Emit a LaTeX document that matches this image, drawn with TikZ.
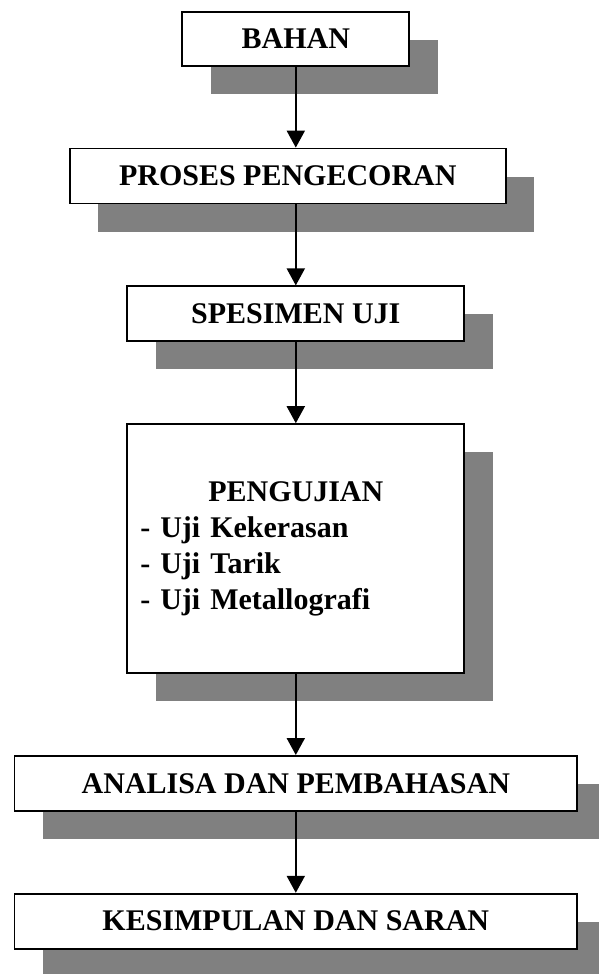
\documentclass[tikz,border=0pt]{standalone}
\usepackage{fontspec}
\setmainfont{Liberation Serif}
\usetikzlibrary{arrows.meta}
\usetikzlibrary{shadows}
\usetikzlibrary{positioning}
\usepackage{xcolor}

\begin{document}
\begin{tikzpicture}[node distance=81pt,
    blok/.style={draw, line width=1.8pt, fill=white, minimum height=55pt, inner sep=0pt,
      font=\bfseries\fontsize{30}{36}\selectfont,
      drop shadow={shadow xshift=28.5pt, shadow yshift=-28pt, fill=gray, opacity=1}},
    panah/.style={-{Triangle[width=18pt,length=17pt]}, line width=2pt}]
  \useasboundingbox (0,0) rectangle (598pt,-974pt);
  % Blocks
  \node[blok, minimum width=227pt, minimum height=54pt] (bahan) at (295.8pt,-38.7pt) {BAHAN};
  \node[blok, minimum width=435.7pt] (proses) [below=of bahan, xshift=-8pt] {PROSES PENGECORAN};
  \node[blok, minimum width=337pt] (spesimen) [below=of proses, xshift=8pt] {SPESIMEN UJI};
  \node[blok, minimum width=337pt, minimum height=249pt, text width=311pt, inner xsep=13pt, align=left]
    (pengujian) [below=of spesimen] {{\centering PENGUJIAN\par}- Uji Kekerasan\\- Uji Tarik\\- Uji Metallografi};
  \node[blok, minimum width=562.6pt] (analisa) [below=of pengujian] {ANALISA DAN PEMBAHASAN};
  \node[blok, minimum width=562.6pt] (kesimpulan) [below=of analisa] {KESIMPULAN DAN SARAN};

  % Arrows
  \draw[panah] (bahan) -- (bahan |- proses.north);
  \draw[panah] (bahan |- proses.south) -- (spesimen);
  \draw[panah] (spesimen) -- (pengujian);
  \draw[panah] (pengujian) -- (analisa);
  \draw[panah] (analisa) -- (kesimpulan);
\end{tikzpicture}
\end{document}
